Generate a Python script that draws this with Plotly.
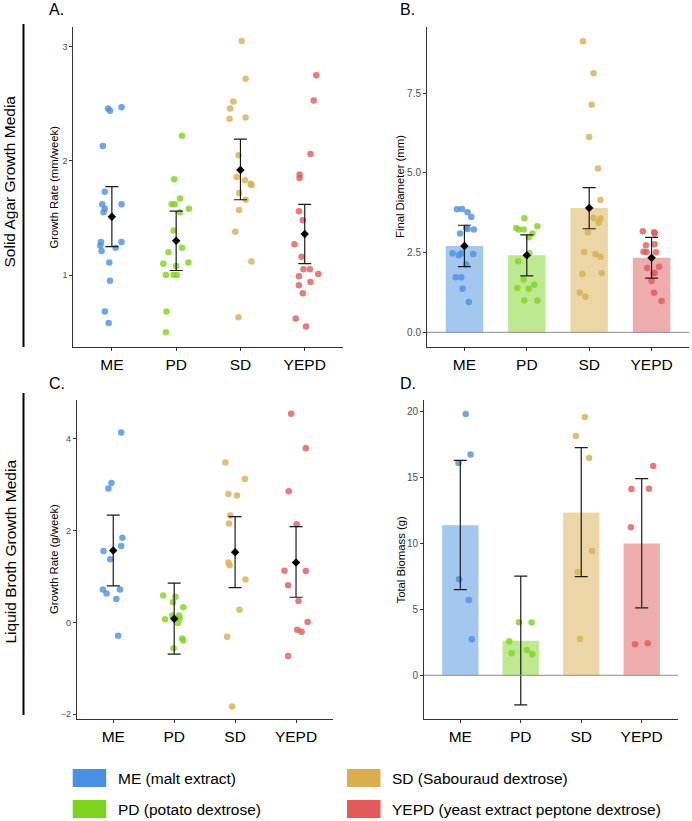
import plotly.graph_objects as go

W, H = 692, 821

categories = ["ME", "PD", "SD", "YEPD"]
legend_labels = ["ME (malt extract)", "PD (potato dextrose)",
                 "SD (Sabouraud dextrose)", "YEPD (yeast extract peptone dextrose)"]
colors = ["#4A90E2", "#7ED321", "#D9AE4F", "#E05A5A"]

# ---------------- Panel A: solid agar growth rate (mm/week) ----------------
A_ME = [2.46, 2.44, 2.47, 2.13, 1.73, 1.62, 1.58, 1.55, 1.62, 1.29, 1.26, 1.29, 1.24, 1.21, 1.11, 0.95, 0.68, 0.58]
A_ME_jit = [-0.06, -0.03, 0.15, -0.14, -0.11, -0.15, -0.11, -0.13, 0.15, -0.17, -0.18, 0.15, 0.06, -0.16, -0.04, -0.03, -0.11, -0.05]
A_PD = [2.22, 1.84, 1.67, 1.62, 1.62, 1.58, 1.55, 1.39, 1.24, 1.20, 1.11, 1.10, 1.08, 1.00, 1.00, 1.00, 0.68, 0.50]
A_PD_jit = [0.09, -0.03, 0.06, -0.07, -0.02, 0.20, 0.06, -0.04, 0.09, -0.12, 0.19, -0.20, 0.00, -0.16, -0.04, 0.01, -0.15, -0.16]
A_SD = [3.05, 2.72, 2.52, 2.46, 2.37, 2.38, 2.05, 1.86, 1.83, 1.80, 1.79, 1.72, 1.66, 1.57, 1.38, 1.12, 0.63]
A_SD_jit = [0.02, 0.08, -0.11, -0.16, -0.17, 0.08, -0.03, -0.06, 0.07, 0.16, 0.17, -0.02, 0.08, -0.02, -0.08, 0.17, -0.03]
A_YEPD = [2.75, 2.53, 2.06, 1.88, 1.85, 1.56, 1.48, 1.27, 1.16, 1.05, 1.05, 1.01, 0.99, 0.91, 0.94, 0.84, 0.62, 0.55]
A_YEPD_jit = [0.18, 0.14, 0.09, -0.08, -0.08, -0.09, -0.03, -0.16, -0.05, -0.02, 0.08, 0.21, -0.09, -0.09, 0.09, -0.03, -0.14, 0.02]
A_mean = [1.51, 1.30, 1.92, 1.36]
A_lower = [1.25, 1.04, 1.66, 1.10]
A_upper = [1.775, 1.56, 2.19, 1.62]

# ---------------- Panel B: final diameter (mm) ----------------
B_ME = [3.86, 3.87, 3.77, 3.62, 3.28, 3.24, 3.23, 3.10, 2.48, 2.42, 2.48, 2.46, 2.13, 1.73, 1.73, 1.37, 0.95]
B_ME_jit = [-0.12, -0.04, 0.05, 0.11, 0.03, 0.05, 0.15, -0.07, -0.19, -0.09, -0.05, 0.14, 0.03, -0.14, -0.05, -0.03, 0.07]
B_PD = [3.58, 3.27, 3.23, 3.23, 3.33, 3.10, 2.98, 2.23, 2.48, 1.66, 1.49, 1.39, 1.37, 1.00, 1.00]
B_PD_jit = [-0.04, -0.17, -0.13, -0.05, 0.17, 0.09, 0.03, -0.14, 0.04, -0.05, 0.12, -0.15, 0.03, -0.04, 0.17]
B_SD = [9.13, 8.13, 7.14, 6.13, 5.14, 4.15, 3.59, 3.57, 3.44, 3.13, 2.52, 2.46, 2.37, 1.83, 1.86, 1.25, 1.12]
B_SD_jit = [-0.10, 0.07, 0.04, 0.00, 0.14, 0.18, 0.07, 0.18, 0.15, -0.02, -0.08, 0.10, 0.18, -0.11, 0.20, -0.15, -0.06]
B_YEPD = [3.17, 3.14, 3.10, 2.73, 2.76, 2.53, 2.52, 2.51, 2.06, 2.02, 1.85, 1.87, 1.61, 1.24, 0.98]
B_YEPD_jit = [-0.14, 0.04, 0.05, -0.09, 0.05, -0.13, -0.08, 0.07, 0.12, -0.07, 0.03, 0.05, 0.00, 0.04, 0.16]
B_bar = [2.71, 2.42, 3.90, 2.34]
B_lower = [2.06, 1.77, 3.25, 1.70]
B_upper = [3.36, 3.06, 4.54, 2.98]

# ---------------- Panel C: liquid broth growth rate (g/week) ----------------
C_ME = [4.14, 3.04, 2.92, 1.85, 1.67, 1.56, 1.38, 0.72, 0.72, 0.63, 0.51, -0.29]
C_ME_jit = [0.13, -0.03, -0.08, 0.15, 0.13, -0.16, -0.05, -0.17, 0.11, -0.11, 0.05, 0.08]
C_PD = [0.59, 0.56, 0.44, 0.33, 0.07, 0.15, 0.15, 0.08, -0.01, -0.35, -0.39, -0.56]
C_PD_jit = [-0.18, 0.02, -0.02, 0.15, -0.15, -0.03, 0.08, 0.09, 0.06, 0.13, 0.15, -0.01]
C_SD = [3.49, 3.13, 2.80, 2.77, 2.33, 2.16, 1.31, 1.25, 0.94, 0.28, -0.31, -1.83]
C_SD_jit = [-0.16, 0.16, -0.11, 0.03, -0.08, -0.10, -0.11, -0.09, 0.17, 0.07, -0.13, -0.05]
C_YEPD = [4.55, 3.80, 2.86, 2.14, 1.13, 1.12, 0.81, 0.47, 0.01, -0.16, -0.20, -0.73]
C_YEPD_jit = [-0.08, 0.16, -0.12, 0.01, -0.19, 0.16, -0.13, 0.04, 0.19, 0.02, 0.09, -0.13]
C_mean = [1.57, 0.08, 1.53, 1.31]
C_lower = [0.80, -0.69, 0.76, 0.55]
C_upper = [2.34, 0.86, 2.31, 2.09]

# ---------------- Panel D: total biomass (g) ----------------
D_ME = [19.82, 16.76, 16.11, 7.28, 5.71, 2.73]
D_ME_jit = [0.09, 0.17, -0.03, -0.02, 0.14, 0.19]
D_PD = [4.02, 4.00, 2.58, 1.92, 1.67, 1.59]
D_PD_jit = [-0.03, 0.18, -0.19, 0.10, -0.15, 0.19]
D_SD = [19.60, 18.15, 16.49, 9.43, 7.84, 2.76]
D_SD_jit = [0.06, -0.09, 0.13, 0.18, -0.06, -0.02]
D_YEPD = [15.88, 14.13, 14.16, 11.23, 2.35, 2.43]
D_YEPD_jit = [0.19, -0.17, 0.12, -0.18, -0.11, 0.10]
D_bar = [11.38, 2.63, 12.36, 10.01]
D_lower = [6.50, -2.25, 7.48, 5.11]
D_upper = [16.31, 7.53, 17.27, 14.92]

# ---------------------------------------------------------------------------
def px(x):
    return x / W

def py(y):
    return 1 - y / H

def rgba(hexc, a):
    h = hexc.lstrip("#")
    r, g, b = int(h[0:2], 16), int(h[2:4], 16), int(h[4:6], 16)
    return f"rgba({r},{g},{b},{a})"

FONT = "Liberation Sans, Arial, Helvetica, sans-serif"
fig = go.Figure()

panels = [
    dict(ax="", pts=[A_ME, A_PD, A_SD, A_YEPD], jit=[A_ME_jit, A_PD_jit, A_SD_jit, A_YEPD_jit],
         mean=A_mean, lo=A_lower, hi=A_upper, bars=None, diamond=True),
    dict(ax="2", pts=[B_ME, B_PD, B_SD, B_YEPD], jit=[B_ME_jit, B_PD_jit, B_SD_jit, B_YEPD_jit],
         mean=B_bar, lo=B_lower, hi=B_upper, bars=B_bar, diamond=True),
    dict(ax="3", pts=[C_ME, C_PD, C_SD, C_YEPD], jit=[C_ME_jit, C_PD_jit, C_SD_jit, C_YEPD_jit],
         mean=C_mean, lo=C_lower, hi=C_upper, bars=None, diamond=True),
    dict(ax="4", pts=[D_ME, D_PD, D_SD, D_YEPD], jit=[D_ME_jit, D_PD_jit, D_SD_jit, D_YEPD_jit],
         mean=D_bar, lo=D_lower, hi=D_upper, bars=D_bar, diamond=False),
]

idx = list(range(len(categories)))
for p in panels:
    xa, ya = "x" + p["ax"], "y" + p["ax"]
    if p["bars"] is not None:
        fig.add_trace(go.Bar(x=idx, y=p["bars"], width=0.6, xaxis=xa, yaxis=ya,
                             marker=dict(color=[rgba(c, 0.5) for c in colors], line=dict(width=0)),
                             showlegend=False, hoverinfo="skip"))
    for i, (vals, jit) in enumerate(zip(p["pts"], p["jit"])):
        fig.add_trace(go.Scatter(x=[i + j for j in jit], y=vals, mode="markers", xaxis=xa, yaxis=ya,
                                 marker=dict(color=colors[i], size=6.5, opacity=0.8, line=dict(width=0)),
                                 showlegend=False, hoverinfo="skip"))
    fig.add_trace(go.Scatter(
        x=idx, y=p["mean"], mode="markers", xaxis=xa, yaxis=ya,
        marker=dict(symbol="diamond", size=6.5, color="black",
                    opacity=1 if p["diamond"] else 0),
        error_y=dict(type="data", symmetric=False,
                     array=[h - m for h, m in zip(p["hi"], p["mean"])],
                     arrayminus=[m - l for m, l in zip(p["mean"], p["lo"])],
                     color="#1a1a1a", thickness=1.2, width=6.5),
        showlegend=False, hoverinfo="skip"))

# Axis geometry (pixels)
geo = {
    "":  dict(x=(73.3, 343.3), y=(27, 347), yr=(0.370, 3.173), tv=[1, 2, 3], tt=["1", "2", "3"], tf=9),
    "2": dict(x=(427, 689), y=(27, 347), yr=(-0.46, 9.58), tv=[0, 2.5, 5, 7.5], tt=["0.0", "2.5", "5.0", "7.5"], tf=10),
    "3": dict(x=(76.7, 332.6), y=(400, 719.3), yr=(-2.11, 4.85), tv=[-2, 0, 2, 4], tt=["\u22122", "0", "2", "4"], tf=9),
    "4": dict(x=(424, 678), y=(400, 719.3), yr=(-3.34, 20.89), tv=[0, 5, 10, 15, 20], tt=["0", "5", "10", "15", "20"], tf=10),
}

layout_axes = {}
for k, g in geo.items():
    xname, yname = "xaxis" + k, "yaxis" + k
    layout_axes[xname] = dict(
        domain=[px(g["x"][0]), px(g["x"][1])], range=[-0.6, 3.6],
        anchor="y" + k, tickmode="array", tickvals=idx, ticktext=categories,
        showline=True, linecolor="#333333", linewidth=1, ticks="outside", ticklen=3,
        tickcolor="#333333", tickwidth=1, showgrid=False, zeroline=False,
        tickfont=dict(size=15.5, color="black", family=FONT), fixedrange=True)
    layout_axes[yname] = dict(
        domain=[py(g["y"][1]), py(g["y"][0])], range=list(g["yr"]),
        anchor="x" + k, tickmode="array", tickvals=g["tv"], ticktext=g["tt"],
        showline=True, linecolor="#333333", linewidth=1, ticks="outside", ticklen=3,
        tickcolor="#333333", tickwidth=1, showgrid=False, zeroline=False,
        tickfont=dict(size=g["tf"], color="#4d4d4d", family=FONT), fixedrange=True)

shapes = []
# zero reference lines for bar panels
for k in ["2", "4"]:
    shapes.append(dict(type="line", xref="x" + k + " domain", yref="y" + k, x0=0, x1=1, y0=0, y1=0,
                       line=dict(color="#8c8c8c", width=1), layer="above"))
# row separator lines
shapes.append(dict(type="line", xref="paper", yref="paper", x0=px(23.5), x1=px(23.5), y0=py(24), y1=py(347),
                   line=dict(color="black", width=2)))
shapes.append(dict(type="line", xref="paper", yref="paper", x0=px(23.5), x1=px(23.5), y0=py(393), y1=py(715),
                   line=dict(color="black", width=2)))

annotations = []
def ann(text, x, y, size, xanchor="center", angle=0, color="black"):
    annotations.append(dict(text=text, x=px(x), y=py(y), xref="paper", yref="paper", showarrow=False,
                            xanchor=xanchor, yanchor="middle", textangle=angle,
                            font=dict(size=size, color=color, family=FONT)))

ann("Solid Agar Growth Media", 9.5, 182, 15.5, angle=-90)
ann("Liquid Broth Growth Media", 9.5, 552, 15.5, angle=-90)
ann("A.", 47, 10, 16, xanchor="left")
ann("B.", 398, 10, 16, xanchor="left")
ann("C.", 47, 383, 16, xanchor="left")
ann("D.", 398, 383, 16, xanchor="left")
ann("Growth Rate (mm/week)", 53.5, 187, 11.3, angle=-90)
ann("Final Diameter (mm)", 400, 187, 11.3, angle=-90)
ann("Growth Rate (g/week)", 53.5, 559.5, 11.3, angle=-90)
ann("Total Biomass (g)", 400, 559.5, 11.3, angle=-90)

# legend (2 columns, column-major)
leg_pos = [(72.7, 769), (72.7, 800), (347, 769), (347, 800)]
for (lx, ly), lab, col in zip(leg_pos, legend_labels, colors):
    shapes.append(dict(type="rect", xref="paper", yref="paper", x0=px(lx), x1=px(lx + 33.5),
                       y0=py(ly + 18), y1=py(ly), fillcolor=col, line=dict(width=0)))
    ann(lab, lx + 43, ly + 9.5, 15.5, xanchor="left")

fig.update_layout(
    width=W, height=H, margin=dict(l=0, r=0, t=0, b=0),
    paper_bgcolor="white", plot_bgcolor="white", showlegend=False,
    barmode="overlay", shapes=shapes, annotations=annotations,
    font=dict(family=FONT), **layout_axes)

fig.write_html("out.html")
